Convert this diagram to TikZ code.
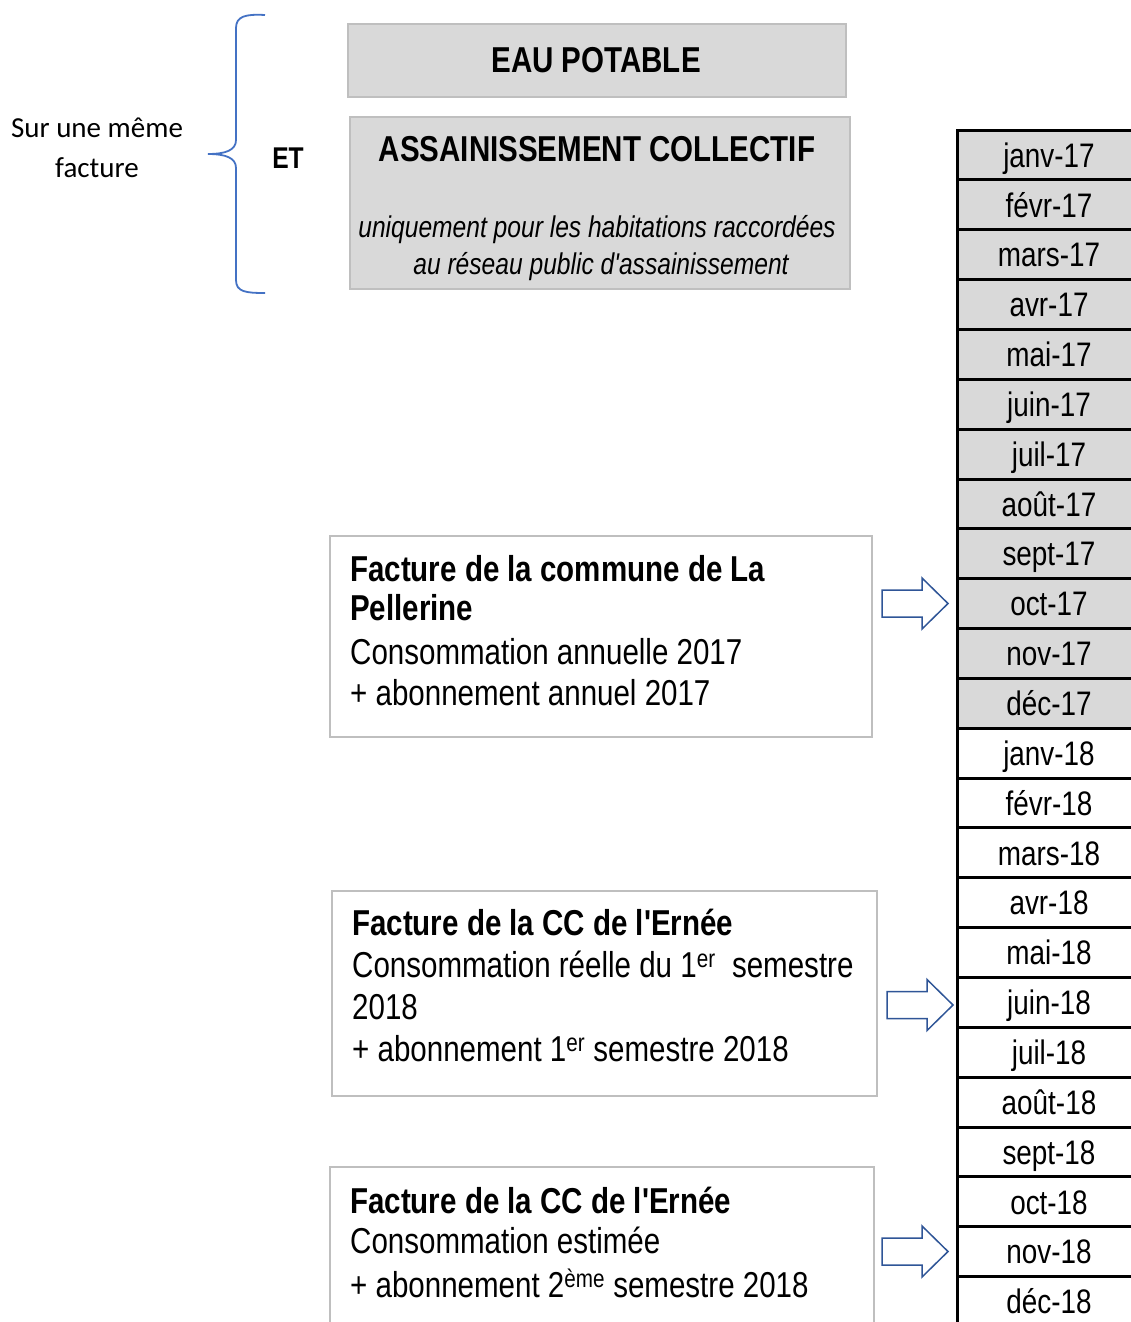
\documentclass[tikz,border=0pt]{standalone}
\usepackage{fontspec}
\setmainfont{Liberation Sans}[FakeStretch=0.82, Ligatures=TeXOff]
\newfontfamily\calibfont{Carlito}
\definecolor{cellgray}{HTML}{D9D9D9}
\definecolor{boxborder}{HTML}{BFBFBF}
\definecolor{arrowblue}{HTML}{2F5597}
\definecolor{braceblue}{HTML}{4472C4}
\tikzset{
  graybox/.style={draw=boxborder, line width=2pt, fill=cellgray, anchor=north west, inner sep=0pt},
  whitebox/.style={draw=boxborder, line width=2pt, fill=white, anchor=north west, inner sep=0pt},
  bodytxt/.style={anchor=base west, inner sep=0pt, font=\fontsize{36}{40}\selectfont},
  titletxt/.style={anchor=base west, inner sep=0pt, font=\bfseries\fontsize{36}{40}\selectfont},
  headtxt/.style={anchor=base, inner sep=0pt, font=\bfseries\fontsize{36}{40}\selectfont},
  italtxt/.style={anchor=base, inner sep=0pt, font=\itshape\fontsize{30}{36}\selectfont},
  monthcell/.style={draw=black, line width=3pt, minimum width=184pt, minimum height=49.85pt,
    inner sep=0pt, outer sep=0pt, text height=24.3pt, text depth=0pt, font=\fontsize{34}{38}\selectfont},
  blockarrow/.style={draw=arrowblue, line width=1.5pt, fill=white, line join=miter},
  bracestyle/.style={draw=braceblue, line width=1.8pt},
}
\begin{document}
\begin{tikzpicture}[x=1pt,y=-1pt]
\path[use as bounding box] (0,0) rectangle (1131,1322);
\begin{scope}
\clip (0,0) rectangle (1131,1322);

% brace and side labels
\draw[bracestyle] (265,15) .. controls (246,14) and (236,16) .. (236,28)
  -- (236,140) .. controls (236,150) and (226,154) .. (208,154)
  .. controls (226,154) and (236,158) .. (236,168)
  -- (236,280) .. controls (236,292) and (246,293) .. (265,293);
\node[anchor=base, inner sep=0pt, font=\calibfont\fontsize{29}{32}\selectfont] (sur1) at (97,137) {Sur une même};
\node[anchor=base, inner sep=0pt, font=\calibfont\fontsize{29}{32}\selectfont] (sur2) at (97,177) {facture};
\node[anchor=base, inner sep=0pt, font=\bfseries\fontsize{30}{32}\selectfont] (et) at (288,168) {ET};

% header boxes
\node[graybox, minimum width=498pt, minimum height=73pt] (eau) at (347,23) {};
\node[headtxt] (eautxt) at (596,73) {EAU POTABLE};
\node[graybox, minimum width=500pt, minimum height=172pt] (ass) at (349,116) {};
\node[headtxt] (asstxt) at (597,161) {ASSAINISSEMENT COLLECTIF};
\node[italtxt] (ass2) at (597,237) {uniquement pour les habitations raccordées};
\node[italtxt] (ass3) at (601,274) {au réseau public d'assainissement};

% invoice boxes
\node[whitebox, minimum width=542pt, minimum height=201pt] (f1) at (329,535) {};
\node[titletxt] (f1a) at (350,581) {Facture de la commune de La};
\node[titletxt] (f1b) at (350,620) {Pellerine};
\node[bodytxt] (f1c) at (350,664) {Consommation annuelle 2017};
\node[bodytxt] (f1d) at (350,705) {+ abonnement annuel 2017};

\node[whitebox, minimum width=545pt, minimum height=205pt] (f2) at (331,890) {};
\node[titletxt] (f2a) at (352,935) {Facture de la CC de l'Ernée};
\node[bodytxt] (f2b) at (352,977) {Consommation réelle du 1\textsuperscript{er}\ \ semestre};
\node[bodytxt] (f2c) at (352,1019) {2018};
\node[bodytxt] (f2d) at (352,1061) {+ abonnement 1\textsuperscript{er} semestre 2018};

\node[whitebox, minimum width=544pt, minimum height=200pt] (f3) at (329,1166) {};
\node[titletxt] (f3a) at (350,1213) {Facture de la CC de l'Ernée};
\node[bodytxt] (f3b) at (350,1253) {Consommation estimée};
\node[bodytxt] (f3c) at (350,1297) {+ abonnement 2\textsuperscript{ème} semestre 2018};

% month table
\foreach \m [count=\i from 0, evaluate=\i as \yc using 155+\i*49.85] in
  {janv-17,févr-17,mars-17,avr-17,mai-17,juin-17,juil-17,août-17,sept-17,oct-17,nov-17,déc-17}
  \node[monthcell, fill=cellgray] (ma\i) at (1049,\yc) {\m};
\foreach \m [count=\i from 0, evaluate=\i as \yc using 753.2+\i*49.85] in
  {janv-18,févr-18,mars-18,avr-18,mai-18,juin-18,juil-18,août-18,sept-18,oct-18,nov-18,déc-18}
  \node[monthcell, fill=white] (mb\i) at (1049,\yc) {\m};

% block arrows
\draw[blockarrow] (882,590) -- (922,590) -- (922,578) -- (948,603.5) -- (922,629) -- (922,617) -- (882,617) -- cycle;
\draw[blockarrow] (887,991.5) -- (927,991.5) -- (927,979.5) -- (953,1005) -- (927,1030.5) -- (927,1018.5) -- (887,1018.5) -- cycle;
\draw[blockarrow] (882,1238) -- (922,1238) -- (922,1226) -- (948,1251.5) -- (922,1277) -- (922,1265) -- (882,1265) -- cycle;
\end{scope}
\end{tikzpicture}
\end{document}
